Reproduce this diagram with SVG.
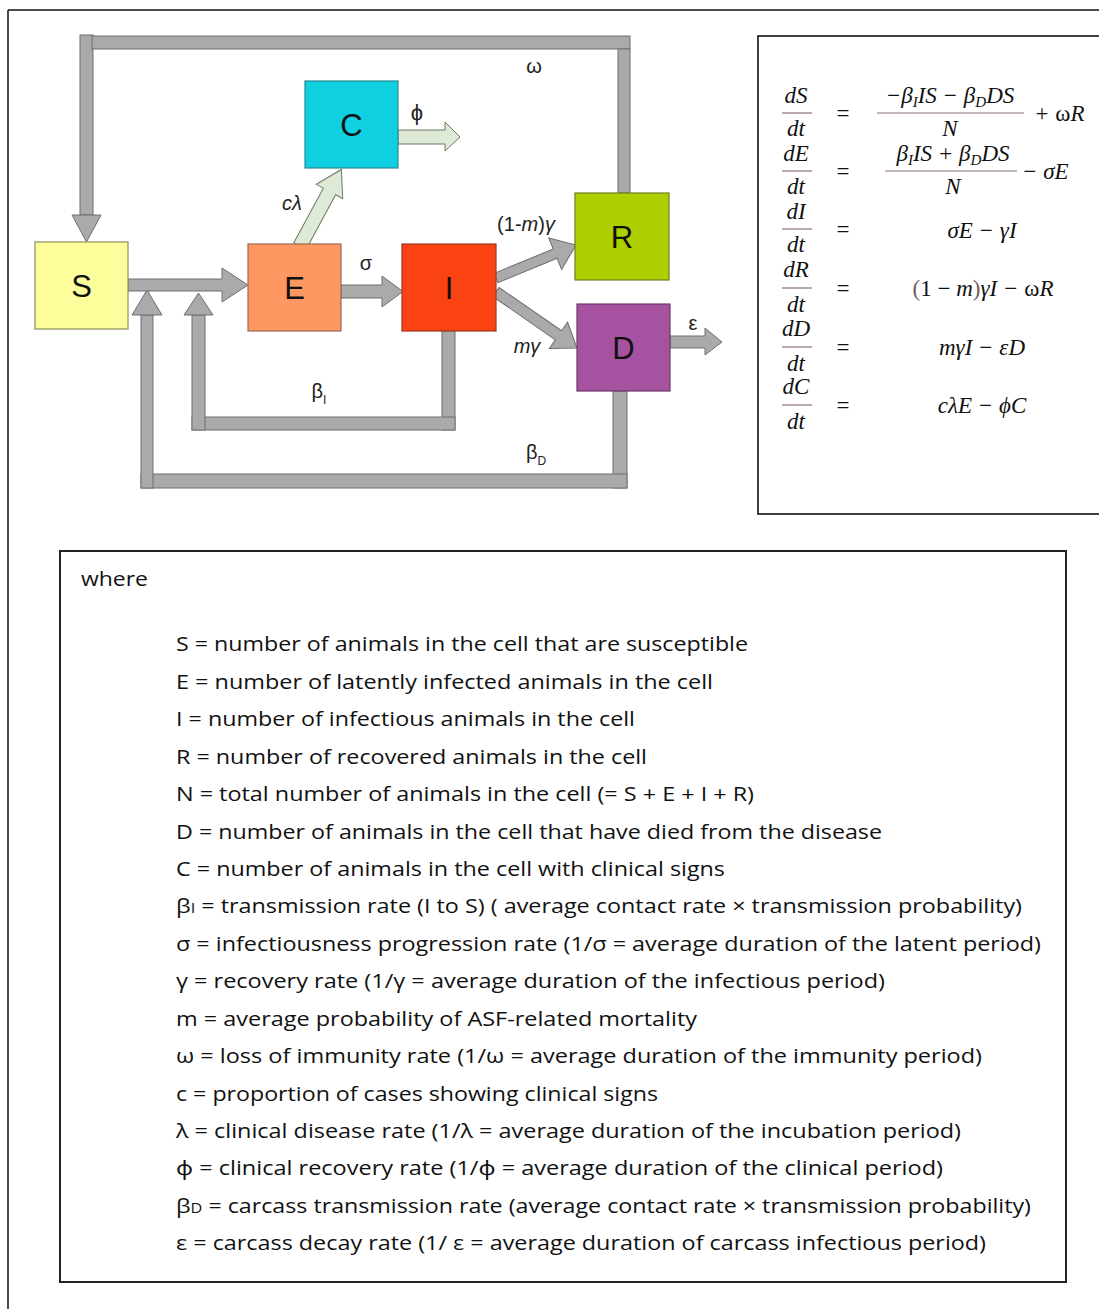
<svg xmlns="http://www.w3.org/2000/svg" width="1099" height="1309" viewBox="0 0 1099 1309">
<style>
.bar{fill:#aaaaaa;stroke:#6f6f6f;stroke-width:1}
.grn{fill:#dfead6;stroke:#6b7a60;stroke-width:1}
.box{stroke-width:1.2}
.bl{font-family:"Liberation Sans",Arial,sans-serif;font-size:31px;fill:#111;text-anchor:middle}
.lb{font-family:"Liberation Sans",Arial,sans-serif;font-size:20px;fill:#222;text-anchor:middle}
.it{font-style:italic}
.m{font-family:"Liberation Serif","Times New Roman",serif;font-style:italic;font-size:23px;fill:#111}
.mu{font-family:"Liberation Serif","Times New Roman",serif;font-size:23px;fill:#111}
.fb{stroke:#8b7070;stroke-width:1.2}
.sub{font-size:15px}
.lg{font-family:"Open Sans","Noto Sans",sans-serif;font-size:20px;fill:#111}
.frame{fill:none;stroke:#111;stroke-width:1.5}
</style>

<line class="frame" x1="8" y1="10" x2="1099" y2="10"/>
<line class="frame" x1="8" y1="10" x2="8" y2="1309"/>

<g id="connectors">
  <rect class="bar" x="80" y="35" width="13" height="180"/>
  <polygon class="bar" points="72,215 101,215 86.5,242"/>
  <rect class="bar" x="92" y="36" width="538" height="13"/>
  <rect class="bar" x="618" y="49" width="12" height="144"/>
  <rect class="bar" x="613" y="391" width="14" height="97"/>
  <rect class="bar" x="141" y="474" width="486" height="14"/>
  <rect class="bar" x="141" y="315" width="12" height="173"/>
  <polygon class="bar" points="132,315 162,315 147,290"/>
  <rect class="bar" x="442" y="331" width="13" height="99"/>
  <rect class="bar" x="192" y="417" width="263" height="13"/>
  <rect class="bar" x="192" y="315" width="13" height="115"/>
  <polygon class="bar" points="184,315 213,315 198.5,293"/>
  <polygon class="bar" points="128,279 222,279 222,268 248,285 222,302 222,291 128,291"/>
  <polygon class="bar" points="341,285 382,285 382,276 403,291.5 382,307 382,298 341,298"/>
  <polygon class="bar" transform="translate(496,278) rotate(-22.4)" points="0,-5 64,-5 64,-17 86.5,0 64,17 64,5 0,5"/>
  <polygon class="bar" transform="translate(496,292) rotate(34.7)" points="0,-5.5 76,-5.5 76,-16 98.5,0 76,16 76,5.5 0,5.5"/>
  <polygon class="bar" points="670,336 705,336 705,328 722,342 705,355 705,348 670,348"/>
  <polygon class="grn" transform="translate(300,246) rotate(-61.6)" points="0,-7 62,-7 62,-15 87,0 62,15 62,7 0,7"/>
  <polygon class="grn" points="398,130 445,130 445,122 460,137 445,151 445,144 398,144"/>

  <text class="lb" x="534" y="73">ω</text>
  <text class="lb" x="417" y="120" style="font-size:22px">ϕ</text>
  <text class="lb it" x="292" y="210">cλ</text>
  <text class="lb" x="366" y="270">σ</text>
  <text class="lb" x="526" y="231">(1-<tspan class="it">m</tspan>)<tspan class="it">γ</tspan></text>
  <text class="lb" x="527" y="353"><tspan class="it">mγ</tspan></text>
  <text class="lb" x="693" y="330">ε</text>
  <text class="lb" x="319" y="398">β<tspan style="font-size:12px" dy="6">I</tspan></text>
  <text class="lb" x="536" y="459">β<tspan style="font-size:12px" dy="6">D</tspan></text>
</g>

<g id="node-S">
  <rect class="box" x="35" y="242" width="93" height="87" fill="#fdfd9c" stroke="#8f8f5c"/>
  <text class="bl" x="81.5" y="297">S</text>
</g>
<g id="node-E">
  <rect class="box" x="248" y="244" width="93" height="87" fill="#fd9862" stroke="#9a6a50"/>
  <text class="bl" x="294.5" y="299">E</text>
</g>
<g id="node-I">
  <rect class="box" x="402" y="244" width="94" height="87" fill="#fb4212" stroke="#9a3a20"/>
  <text class="bl" x="449" y="299">I</text>
</g>
<g id="node-R">
  <rect class="box" x="575" y="193" width="94" height="87" fill="#afd000" stroke="#6d7f20"/>
  <text class="bl" x="622" y="248">R</text>
</g>
<g id="node-D">
  <rect class="box" x="577" y="304" width="93" height="87" fill="#a652a1" stroke="#6a3a68"/>
  <text class="bl" x="623.5" y="359">D</text>
</g>
<g id="node-C">
  <rect class="box" x="305" y="81" width="93" height="87" fill="#0fd0e0" stroke="#2a8a95"/>
  <text class="bl" x="351.5" y="136">C</text>
</g>

<g id="equations">
  <rect x="758" y="36" width="360" height="478" fill="none" stroke="#111" stroke-width="1.6"/>
  <text class="m" x="796" y="103" text-anchor="middle">dS</text>
  <line class="fb" x1="782" y1="113" x2="812" y2="113"/>
  <text class="m" x="796" y="136" text-anchor="middle">dt</text>
  <text class="mu" x="843" y="121" text-anchor="middle">=</text>
  <text class="m" x="950" y="103" text-anchor="middle">−β<tspan class="sub" dy="4">I</tspan><tspan dy="-4">IS − β</tspan><tspan class="sub" dy="4">D</tspan><tspan dy="-4">DS</tspan></text>
  <line class="fb" x1="877" y1="113" x2="1024" y2="113"/>
  <text class="m" x="950" y="136" text-anchor="middle">N</text>
  <text class="m" x="1034" y="121">+ <tspan style="font-style:normal">ω</tspan>R</text>
  <text class="m" x="796" y="161" text-anchor="middle">dE</text>
  <line class="fb" x1="782" y1="171" x2="812" y2="171"/>
  <text class="m" x="796" y="194" text-anchor="middle">dt</text>
  <text class="mu" x="843" y="179" text-anchor="middle">=</text>
  <text class="m" x="953" y="161" text-anchor="middle">β<tspan class="sub" dy="4">I</tspan><tspan dy="-4">IS + β</tspan><tspan class="sub" dy="4">D</tspan><tspan dy="-4">DS</tspan></text>
  <line class="fb" x1="885" y1="171" x2="1017" y2="171"/>
  <text class="m" x="953" y="194" text-anchor="middle">N</text>
  <text class="m" x="1022" y="179">− σE</text>
  <text class="m" x="796" y="219" text-anchor="middle">dI</text>
  <line class="fb" x1="782" y1="229" x2="812" y2="229"/>
  <text class="m" x="796" y="252" text-anchor="middle">dt</text>
  <text class="mu" x="843" y="237" text-anchor="middle">=</text>
  <text class="m" x="982" y="238" text-anchor="middle">σE − γI</text>
  <text class="m" x="796" y="277" text-anchor="middle">dR</text>
  <line class="fb" x1="782" y1="288" x2="812" y2="288"/>
  <text class="m" x="796" y="312" text-anchor="middle">dt</text>
  <text class="mu" x="843" y="296" text-anchor="middle">=</text>
  <text class="m" x="983" y="296" text-anchor="middle"><tspan style="font-style:normal;fill:#7a5a5a">(</tspan><tspan style="font-style:normal">1 − </tspan>m<tspan style="font-style:normal;fill:#7a5a5a">)</tspan>γI − <tspan style="font-style:normal">ω</tspan>R</text>
  <text class="m" x="796" y="336" text-anchor="middle">dD</text>
  <line class="fb" x1="782" y1="347" x2="812" y2="347"/>
  <text class="m" x="796" y="371" text-anchor="middle">dt</text>
  <text class="mu" x="843" y="355" text-anchor="middle">=</text>
  <text class="m" x="982" y="355" text-anchor="middle">mγI − εD</text>
  <text class="m" x="796" y="394" text-anchor="middle">dC</text>
  <line class="fb" x1="782" y1="405" x2="812" y2="405"/>
  <text class="m" x="796" y="429" text-anchor="middle">dt</text>
  <text class="mu" x="843" y="413" text-anchor="middle">=</text>
  <text class="m" x="982" y="413" text-anchor="middle">cλE − ϕC</text>
</g>

<g id="legend">
  <rect x="60" y="551" width="1006" height="731" fill="none" stroke="#222" stroke-width="2"/>
  <text class="lg" x="81" y="586" textLength="67" lengthAdjust="spacingAndGlyphs">where</text>
  <text class="lg" x="176" y="651" textLength="572" lengthAdjust="spacingAndGlyphs">S = number of animals in the cell that are susceptible</text>
  <text class="lg" x="176" y="689" textLength="537" lengthAdjust="spacingAndGlyphs">E = number of latently infected animals in the cell</text>
  <text class="lg" x="176" y="726" textLength="459" lengthAdjust="spacingAndGlyphs">I = number of infectious animals in the cell</text>
  <text class="lg" x="176" y="764" textLength="471" lengthAdjust="spacingAndGlyphs">R = number of recovered animals in the cell</text>
  <text class="lg" x="176" y="801" textLength="578" lengthAdjust="spacingAndGlyphs">N = total number of animals in the cell (= S + E + I + R)</text>
  <text class="lg" x="176" y="839" textLength="706" lengthAdjust="spacingAndGlyphs">D = number of animals in the cell that have died from the disease</text>
  <text class="lg" x="176" y="876" textLength="549" lengthAdjust="spacingAndGlyphs">C = number of animals in the cell with clinical signs</text>
  <text class="lg" x="176" y="913" textLength="846" lengthAdjust="spacingAndGlyphs">β<tspan style="font-size:14px">I</tspan> = transmission rate (I to S) ( average contact rate × transmission probability)</text>
  <text class="lg" x="176" y="951" textLength="865" lengthAdjust="spacingAndGlyphs">σ = infectiousness progression rate (1/σ = average duration of the latent period)</text>
  <text class="lg" x="176" y="988" textLength="709" lengthAdjust="spacingAndGlyphs">γ = recovery rate (1/γ = average duration of the infectious period)</text>
  <text class="lg" x="176" y="1026" textLength="521" lengthAdjust="spacingAndGlyphs">m = average probability of ASF-related mortality</text>
  <text class="lg" x="176" y="1063" textLength="806" lengthAdjust="spacingAndGlyphs">ω = loss of immunity rate (1/ω = average duration of the immunity period)</text>
  <text class="lg" x="176" y="1101" textLength="482" lengthAdjust="spacingAndGlyphs">c = proportion of cases showing clinical signs</text>
  <text class="lg" x="176" y="1138" textLength="785" lengthAdjust="spacingAndGlyphs">λ = clinical disease rate (1/λ = average duration of the incubation period)</text>
  <text class="lg" x="176" y="1175" textLength="767" lengthAdjust="spacingAndGlyphs">ϕ = clinical recovery rate (1/ϕ = average duration of the clinical period)</text>
  <text class="lg" x="176" y="1213" textLength="855" lengthAdjust="spacingAndGlyphs">β<tspan style="font-size:14px">D</tspan> = carcass transmission rate (average contact rate × transmission probability)</text>
  <text class="lg" x="176" y="1250" textLength="810" lengthAdjust="spacingAndGlyphs">ε = carcass decay rate (1/ ε = average duration of carcass infectious period)</text>
</g>
</svg>
